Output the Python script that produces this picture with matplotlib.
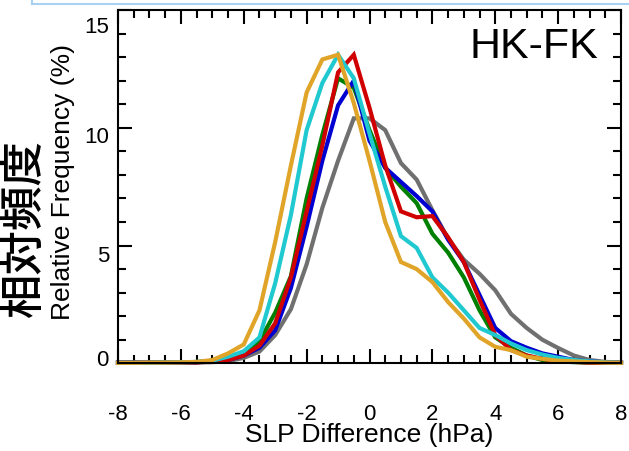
import matplotlib
matplotlib.use("Agg")
import matplotlib.pyplot as plt
from matplotlib.lines import Line2D
from matplotlib.ticker import MultipleLocator
from matplotlib.transforms import Affine2D

plt.rcParams['font.family'] = ['Liberation Sans', 'DejaVu Sans']

x = [-8, -7.5, -7, -6.5, -6, -5.5, -5, -4.5, -4, -3.5, -3, -2.5, -2, -1.5, -1, -0.5,
     0, 0.5, 1, 1.5, 2, 2.5, 3, 3.5, 4, 4.5, 5, 5.5, 6, 6.5, 7, 7.5, 8]

gray = [0.02, 0.02, 0.02, 0.02, 0.03, 0.03, 0.05, 0.09, 0.23, 0.5, 1.2, 2.3, 4.2, 6.6, 8.6, 10.4,
        10.4, 9.9, 8.5, 7.8, 6.5, 5.3, 4.4, 3.8, 3.1, 2.1, 1.5, 1.0, 0.65, 0.33, 0.14, 0.06, 0.03]
green = [0.03, 0.03, 0.03, 0.03, 0.04, 0.05, 0.09, 0.19, 0.42, 0.94, 2.15, 3.7, 7.0, 9.7, 12.1, 11.7,
         9.9, 8.3, 7.5, 6.8, 5.5, 4.7, 3.65, 2.25, 1.1, 0.66, 0.33, 0.14, 0.08, 0.05, 0.03, 0.02, 0.02]
blue = [0.03, 0.03, 0.03, 0.03, 0.04, 0.05, 0.09, 0.14, 0.33, 0.66, 1.4, 3.2, 5.8, 8.6, 10.95, 12.0,
        9.45, 8.3, 7.7, 7.1, 6.45, 5.25, 4.3, 2.9, 1.5, 0.94, 0.66, 0.42, 0.28, 0.14, 0.08, 0.04, 0.02]
red = [0.02, 0.02, 0.02, 0.02, 0.03, 0.04, 0.08, 0.14, 0.33, 0.75, 1.7, 3.65, 6.45, 9.25, 12.35, 13.1,
       10.85, 8.4, 6.45, 6.2, 6.25, 5.35, 4.3, 2.7, 1.2, 0.56, 0.33, 0.19, 0.09, 0.06, 0.03, 0.02, 0.02]
cyan = [0.02, 0.02, 0.02, 0.03, 0.04, 0.06, 0.11, 0.28, 0.51, 1.1, 3.4, 6.3, 9.9, 11.9, 13.1, 12.1,
        9.75, 7.5, 5.4, 4.9, 3.65, 3.0, 2.25, 1.5, 1.2, 0.84, 0.56, 0.37, 0.23, 0.14, 0.08, 0.04, 0.02]
gold = [0.02, 0.02, 0.03, 0.03, 0.04, 0.06, 0.14, 0.42, 0.8, 2.25, 5.15, 8.4, 11.5, 12.9, 13.1, 11.05,
        8.6, 6.0, 4.3, 4.0, 3.45, 2.6, 1.9, 1.1, 0.7, 0.56, 0.28, 0.19, 0.11, 0.08, 0.05, 0.03, 0.02]

series = [
    (gray, '#707070'),
    (green, '#008000'),
    (blue, '#0000D0'),
    (red, '#D00000'),
    (cyan, '#20C8D0'),
    (gold, '#E0A428'),
]

xticks = [-8, -6, -4, -2, 0, 2, 4, 6, 8]
yticks = [0, 5, 10, 15]

fig = plt.figure(figsize=(6.29, 4.51), dpi=100)
ax = fig.add_axes([118/629, 1-363.3/451, 503/629, 353.3/451])

for vals, col in series:
    ax.plot(x, vals, color=col, lw=3.0, clip_on=False, solid_joinstyle='miter')

ax.set_xlim(-8, 8)
ax.set_ylim(0, 15)
ax.set_xticks(xticks)
ax.set_yticks(yticks)
ax.set_xticklabels([str(t) for t in xticks])
ax.set_yticklabels([str(t) for t in yticks])
ax.xaxis.set_minor_locator(MultipleLocator(0.5))
ax.yaxis.set_minor_locator(MultipleLocator(1))
ax.tick_params(which='both', direction='in', top=True, right=True, width=1.5, colors='black')
ax.tick_params(which='major', length=10, labelsize=16)
ax.tick_params(axis='x', which='major', pad=29)
ax.tick_params(axis='y', which='major', pad=6.5)
ax.tick_params(which='minor', length=5.5)
for sp in ax.spines.values():
    sp.set_linewidth(1.5)

# vertical pixel offsets of y tick labels, as placed in the reference
ylab_shift = {0: 5, 5: -8, 10: -7, 15: -15}
for t, lab in zip(yticks, ax.get_yticklabels()):
    lab.set_transform(lab.get_transform() + Affine2D().translate(0, ylab_shift[t]))

fig.text(0.5*(118+621)/629, 1-442/451, 'SLP Difference (hPa)', fontsize=19,
         ha='center', va='baseline')
fig.text(70/629, 1-182/451, 'Relative Frequency (%)', fontsize=19, rotation=90,
         rotation_mode='anchor', ha='center', va='baseline')
fig.text(24/629, 1-228/451, '相対頻度', fontsize=32, rotation=90, weight='medium',
         ha='center', va='center', family=['Noto Sans CJK JP', 'DejaVu Sans'])
fig.text(598/629, 1-58/451, 'HK-FK', fontsize=31, ha='right', va='baseline')

# light-blue frame edge at top of figure
fig.add_artist(Line2D([32/629, 1.0], [1-4/451, 1-4/451], color='#A8D0F0', lw=1.5,
                      transform=fig.transFigure))
fig.add_artist(Line2D([32/629, 32/629], [1-4/451, 1.0], color='#A8D0F0', lw=1.5,
                      transform=fig.transFigure))

fig.savefig('out.png', dpi=100)
